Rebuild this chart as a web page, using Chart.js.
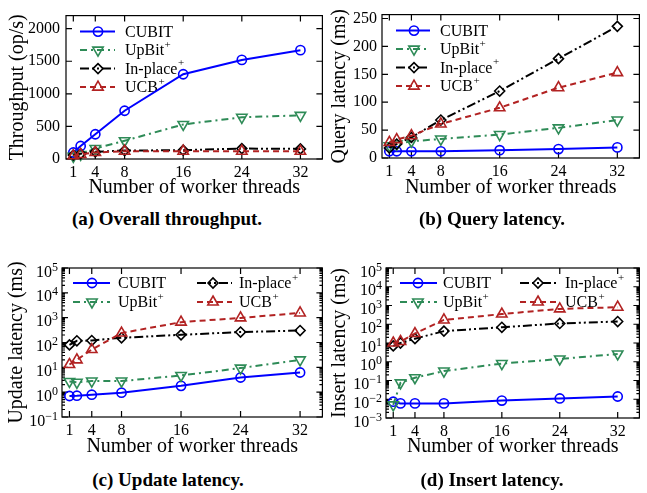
<!DOCTYPE html>
<html>
<head>
<meta charset="utf-8">
<script src="https://cdn.jsdelivr.net/npm/chart.js@4.4.1/dist/chart.umd.min.js"></script>
<style>
html, body { margin: 0; padding: 0; background: #fff; }
#wrap { position: relative; width: 647px; height: 493px; overflow: hidden; font-family: 'Liberation Serif', 'Times New Roman', serif; }
.pane { position: absolute; }
.pane canvas { display: block; }
.cap { position: absolute; font-weight: bold; font-size: 19px; transform: translate(-50%, -50%); white-space: nowrap; color: #000; line-height: 1; }
</style>
</head>
<body>
<div id="wrap">
  <div class="pane" style="left:0px;top:0px;"><canvas id="ca" width="330" height="200"></canvas></div>
  <div class="pane" style="left:326px;top:0px;"><canvas id="cb" width="321" height="200"></canvas></div>
  <div class="pane" style="left:0px;top:250px;"><canvas id="cc" width="330" height="215"></canvas></div>
  <div class="pane" style="left:326px;top:250px;"><canvas id="cd" width="321" height="215"></canvas></div>
  <div class="cap" style="left:167px;top:218px;">(a) Overall throughput.</div>
  <div class="cap" style="left:492px;top:218px;">(b) Query latency.</div>
  <div class="cap" style="left:168px;top:479px;">(c) Update latency.</div>
  <div class="cap" style="left:492px;top:479px;">(d) Insert latency.</div>
</div>
<script>
// ---------------- data ----------------
const threads = [1, 2, 4, 8, 16, 24, 32];
const xTickValues = [1, 4, 8, 16, 24, 32];
const seriesNames = ['CUBIT', 'UpBit', 'In-place', 'UCB'];
const seriesPlus = [false, true, true, true];

const throughputCUBIT   = [100, 200, 380, 740, 1300, 1520, 1670];
const throughputUpBit   = [40, 70, 160, 280, 530, 640, 670];
const throughputInplace = [60, 80, 110, 130, 135, 160, 155];
const throughputUCB     = [50, 70, 100, 120, 120, 120, 118];
const throughputTicks   = [0, 500, 1000, 1500, 2000];

const queryCUBIT   = [12, 12, 12, 12, 14, 16, 19];
const queryUpBit   = [22, 25, 30, 34, 42, 54, 68];
const queryInplace = [18, 25, 37, 68, 120, 178, 236];
const queryUCB     = [28, 33, 40, 61, 90, 126, 153];
const queryTicks   = [0, 50, 100, 150, 200, 250];

const updateCUBIT   = [0.70, 0.72, 0.79, 0.95, 1.8, 3.9, 6.2];
const updateUpBit   = [2.7, 2.5, 2.8, 2.8, 4.7, 9.3, 20];
const updateInplace = [80, 117, 120, 155, 204, 264, 303];
const updateUCB     = [13, 20, 52, 240, 660, 980, 1550];
const updateExps    = [-1, 0, 1, 2, 3, 4, 5];

const insertCUBIT   = [0.0074, 0.006, 0.006, 0.006, 0.0085, 0.011, 0.014];
const insertUpBit   = [0.005, 0.075, 0.14, 0.32, 0.8, 1.4, 2.6];
const insertInplace = [7, 10, 17, 43, 69, 110, 140];
const insertUCB     = [10, 12, 32, 170, 350, 660, 810];
const insertExps    = [-3, -2, -1, 0, 1, 2, 3, 4, 5];

// ---------------- styles ----------------
const FONT = "'Liberation Serif', 'Times New Roman', serif";
const STY = [
  { color: '#0000ff', dash: [],                 pointStyle: 'circle',  rot: 0,   r: 4.6 },
  { color: '#2e8b57', dash: [7, 4, 2, 4],       pointStyle: 'triangle', rot: 180, r: 6 },
  { color: '#000000', dash: [9, 3, 2, 3, 2, 3], pointStyle: 'rectRot', rot: 0,   r: 5 },
  { color: '#b22222', dash: [6, 4],             pointStyle: 'triangle', rot: 0,   r: 6 }
];

function buildDatasets(list) {
  return list.map((vals, i) => ({
    label: seriesNames[i],
    data: threads.map((t, j) => ({ x: t, y: vals[j] })),
    borderColor: STY[i].color,
    backgroundColor: 'rgba(0,0,0,0)',
    borderWidth: 2,
    borderDash: STY[i].dash,
    pointStyle: STY[i].pointStyle,
    pointRotation: STY[i].rot,
    pointRadius: STY[i].r,
    pointHoverRadius: STY[i].r,
    pointBorderColor: STY[i].color,
    pointBackgroundColor: 'rgba(0,0,0,0)',
    pointBorderWidth: 1.6,
    tension: 0,
    fill: false,
    clip: false,
    order: 4 - i
  }));
}

// legend layouts (offsets from chart area left/top)
const LEGENDS = {
  ca: [
    { i: 0, x1: 14, x2: 49, xm: 32, xt: 59, dy: 16 },
    { i: 1, x1: 14, x2: 49, xm: 32, xt: 59, dy: 34.5 },
    { i: 2, x1: 14, x2: 49, xm: 32, xt: 59, dy: 53 },
    { i: 3, x1: 14, x2: 49, xm: 32, xt: 59, dy: 71.5 }
  ],
  cb: [
    { i: 0, x1: 14, x2: 48, xm: 32, xt: 58, dy: 16 },
    { i: 1, x1: 14, x2: 48, xm: 32, xt: 58, dy: 34.5 },
    { i: 2, x1: 14, x2: 48, xm: 32, xt: 58, dy: 53 },
    { i: 3, x1: 14, x2: 48, xm: 32, xt: 58, dy: 71.5 }
  ],
  cc: [
    { i: 0, x1: 11, x2: 48, xm: 30, xt: 56, dy: 15 },
    { i: 1, x1: 11, x2: 48, xm: 30, xt: 56, dy: 34 },
    { i: 2, x1: 135, x2: 170, xm: 151, xt: 177, dy: 15 },
    { i: 3, x1: 135, x2: 170, xm: 151, xt: 177, dy: 34 }
  ],
  cd: [
    { i: 0, x1: 14, x2: 51, xm: 32, xt: 57, dy: 15 },
    { i: 1, x1: 14, x2: 51, xm: 32, xt: 57, dy: 34 },
    { i: 2, x1: 134, x2: 171, xm: 152, xt: 179, dy: 15 },
    { i: 3, x1: 134, x2: 171, xm: 152, xt: 179, dy: 34 }
  ]
};

function drawMarker(ctx, o, x, y) {
  if (Chart.helpers && Chart.helpers.drawPoint) {
    Chart.helpers.drawPoint(ctx, o, x, y);
    return;
  }
  ctx.beginPath(); ctx.arc(x, y, o.radius, 0, Math.PI * 2); ctx.stroke();
}

const framePlugin = {
  id: 'gFrame',
  beforeDatasetsDraw(chart) {
    const { ctx, chartArea: a } = chart;
    const xs = chart.scales.x, ys = chart.scales.y;
    const major = 6, minor = 3;
    ctx.save();
    ctx.strokeStyle = '#000';
    ctx.lineWidth = 1.2;
    ctx.setLineDash([]);
    ctx.strokeRect(a.left, a.top, a.right - a.left, a.bottom - a.top);
    ctx.beginPath();
    xs.ticks.forEach(t => {
      const p = xs.getPixelForValue(t.value);
      ctx.moveTo(p, a.bottom); ctx.lineTo(p, a.bottom - major);
      ctx.moveTo(p, a.top); ctx.lineTo(p, a.top + major);
    });
    ys.ticks.forEach(t => {
      const p = ys.getPixelForValue(t.value);
      ctx.moveTo(a.left, p); ctx.lineTo(a.left + major, p);
      ctx.moveTo(a.right, p); ctx.lineTo(a.right - major, p);
    });
    if (ys.type === 'logarithmic') {
      const e0 = Math.round(Math.log10(ys.min)), e1 = Math.round(Math.log10(ys.max));
      for (let e = e0; e < e1; e++) {
        for (let m = 2; m <= 9; m++) {
          const p = ys.getPixelForValue(m * Math.pow(10, e));
          ctx.moveTo(a.left, p); ctx.lineTo(a.left + minor, p);
          ctx.moveTo(a.right, p); ctx.lineTo(a.right - minor, p);
        }
      }
    }
    ctx.stroke();
    ctx.restore();
  },
  afterDraw(chart) {
    const ys = chart.scales.y;
    if (ys.type !== 'logarithmic') return;
    const { ctx, chartArea: a } = chart;
    ctx.save();
    ctx.fillStyle = '#000';
    ctx.textAlign = 'left';
    ctx.textBaseline = 'alphabetic';
    ys.ticks.forEach(t => {
      const e = Math.round(Math.log10(t.value));
      const p = ys.getPixelForValue(t.value);
      const es = e < 0 ? '\u2212' + (-e) : String(e);
      ctx.font = '16px ' + FONT;
      const w10 = ctx.measureText('10').width;
      ctx.font = '12px ' + FONT;
      const we = ctx.measureText(es).width;
      const x0 = a.left - 4 - w10 - we;
      ctx.font = '16px ' + FONT;
      ctx.fillText('10', x0, p + 8.5);
      ctx.font = '12px ' + FONT;
      ctx.fillText(es, x0 + w10, p + 2.5);
    });
    ctx.restore();
  }
};

const legendPlugin = {
  id: 'gLegend',
  beforeDatasetsDraw(chart) {
    const items = LEGENDS[chart.canvas.id] || [];
    const { ctx, chartArea: a } = chart;
    items.forEach(it => {
      const ds = chart.data.datasets[it.i];
      const y = a.top + it.dy;
      ctx.save();
      ctx.strokeStyle = ds.borderColor;
      ctx.lineWidth = ds.borderWidth;
      ctx.setLineDash(ds.borderDash);
      ctx.beginPath();
      ctx.moveTo(a.left + it.x1, y);
      ctx.lineTo(a.left + it.x2, y);
      ctx.stroke();
      ctx.setLineDash([]);
      ctx.lineWidth = ds.pointBorderWidth;
      ctx.fillStyle = 'rgba(0,0,0,0)';
      drawMarker(ctx, { pointStyle: ds.pointStyle, rotation: ds.pointRotation, radius: ds.pointRadius, borderWidth: ds.pointBorderWidth }, a.left + it.xm, y);
      ctx.fillStyle = '#000';
      ctx.font = '16px ' + FONT;
      ctx.textAlign = 'left';
      ctx.textBaseline = 'middle';
      const name = seriesNames[it.i];
      ctx.fillText(name, a.left + it.xt, y + 1);
      if (seriesPlus[it.i]) {
        const w = ctx.measureText(name).width;
        ctx.font = '11px ' + FONT;
        ctx.fillText('+', a.left + it.xt + w + 0.5, y - 5);
      }
      ctx.restore();
    });
  }
};

function makeChart(id, cfg) {
  const logY = cfg.yType === 'logarithmic';
  return new Chart(document.getElementById(id), {
    type: 'line',
    data: { datasets: buildDatasets(cfg.series) },
    plugins: [framePlugin, legendPlugin],
    options: {
      responsive: false,
      animation: false,
      devicePixelRatio: 1,
      layout: { padding: cfg.padding },
      plugins: { legend: { display: false }, tooltip: { enabled: false } },
      events: [],
      scales: {
        x: {
          type: 'linear', min: 0, max: 35,
          afterBuildTicks: s => { s.ticks = xTickValues.map(v => ({ value: v })); },
          afterFit: s => { s.height = cfg.xHeight; },
          grid: { display: false, drawTicks: false },
          border: { display: false },
          ticks: { font: { family: FONT, size: 16 }, color: '#000', padding: 4, maxRotation: 0, autoSkip: false, callback: v => String(v) },
          title: { display: true, text: 'Number of worker threads', color: '#000', font: { family: FONT, size: 20 }, padding: { top: 0, bottom: cfg.xTitlePad } }
        },
        y: {
          type: cfg.yType, min: cfg.yMin, max: cfg.yMax,
          afterBuildTicks: s => { s.ticks = cfg.yTicks.map(v => ({ value: v })); },
          afterFit: s => { s.width = cfg.yWidth; },
          grid: { display: false, drawTicks: false },
          border: { display: false },
          ticks: { display: !logY, font: { family: FONT, size: 16 }, color: '#000', padding: cfg.yTickPad, autoSkip: false, callback: v => String(v) },
          title: { display: true, text: cfg.yTitle, color: '#000', font: { family: FONT, size: 20 }, padding: { top: cfg.yTitlePad, bottom: 0 } }
        }
      }
    }
  });
}

makeChart('ca', {
  series: [throughputCUBIT, throughputUpBit, throughputInplace, throughputUCB],
  yType: 'linear', yMin: 0, yMax: 2200, yTicks: throughputTicks,
  yTitle: 'Throughput (op/s)', yWidth: 66, yTickPad: 6, yTitlePad: 6,
  xHeight: 41, xTitlePad: 0,
  padding: { left: 0, top: 3, right: 7, bottom: 0 }
});
makeChart('cb', {
  series: [queryCUBIT, queryUpBit, queryInplace, queryUCB],
  yType: 'linear', yMin: 0, yMax: 257, yTicks: queryTicks,
  yTitle: 'Query latency (ms)', yWidth: 56, yTickPad: 5, yTitlePad: 2,
  xHeight: 42, xTitlePad: 0,
  padding: { left: 0, top: 3, right: 2, bottom: 0 }
});
makeChart('cc', {
  series: [updateCUBIT, updateUpBit, updateInplace, updateUCB],
  yType: 'logarithmic', yMin: 0.1, yMax: 1e5, yTicks: updateExps.map(e => Math.pow(10, e)),
  yTitle: 'Update latency (ms)', yWidth: 62, yTickPad: 4, yTitlePad: 5,
  xHeight: 48, xTitlePad: 6,
  padding: { left: 0, top: 18, right: 7, bottom: 0 }
});
makeChart('cd', {
  series: [insertCUBIT, insertUpBit, insertInplace, insertUCB],
  yType: 'logarithmic', yMin: 0.001, yMax: 1e5, yTicks: insertExps.map(e => Math.pow(10, e)),
  yTitle: 'Insert latency (ms)', yWidth: 60, yTickPad: 4, yTitlePad: 2,
  xHeight: 47, xTitlePad: 6,
  padding: { left: 0, top: 18, right: 2, bottom: 0 }
});
</script>
</body>
</html>
